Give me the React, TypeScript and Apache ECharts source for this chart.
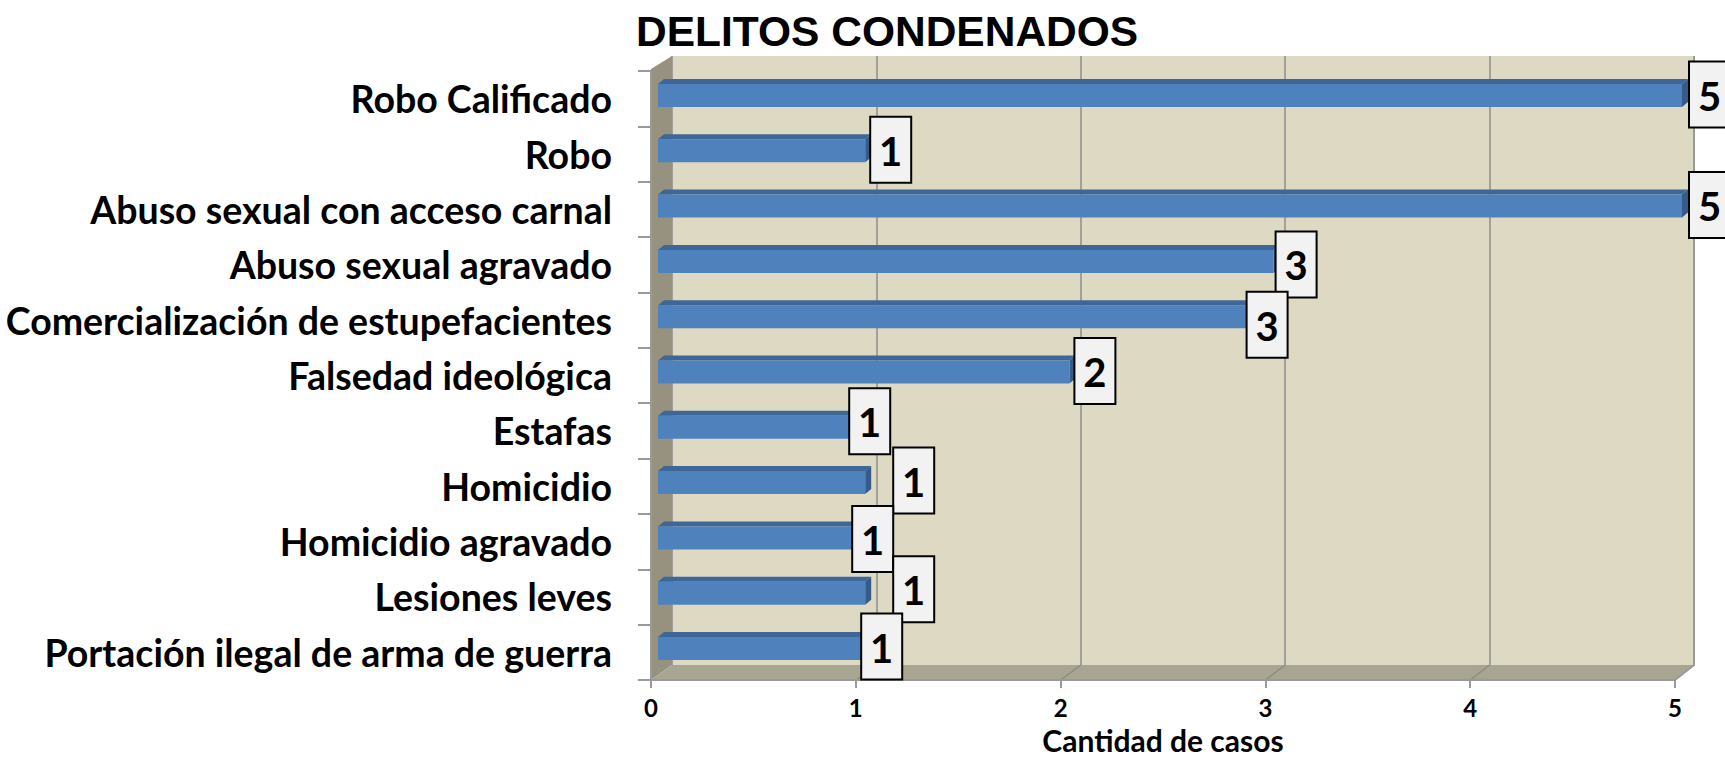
import React, { useEffect, useRef } from "react";
import * as echarts from "echarts";

const categories = [
  "Robo Calificado",
  "Robo",
  "Abuso sexual con acceso carnal",
  "Abuso sexual agravado",
  "Comercialización de estupefacientes",
  "Falsedad ideológica",
  "Estafas",
  "Homicidio",
  "Homicidio agravado",
  "Lesiones leves",
  "Portación ilegal de arma de guerra",
];
const casos = [5, 1, 5, 3, 3, 2, 1, 1, 1, 1, 1];
const titleText = "DELITOS CONDENADOS";
const axisName = "Cantidad de casos";

// layout-only nudges of the data-label boxes (Excel 3D placement)
const labelNudgeX = [7, 5, 7, 2, -27, 5, -16, 28, -13, 28, -4];
const labelNudgeY = [0, 0, 0, 4, 9, 0, -5, -1, 2, -3, -1];

const LABEL_FONT = "Lato";
const W = 1725;
const H = 759;

// 3D frame geometry
const FX0 = 651, FX1 = 1675, FY1 = 680, FYT = 69;
const BX0 = 672, BX1 = 1694, BY0 = 56, BY1 = 665;

export default function App() {
  const ref = useRef<HTMLDivElement>(null);
  useEffect(() => {
    if (!ref.current) return;
    const chart = echarts.init(ref.current, undefined, { renderer: "svg" });
    const floorLines: any[] = [];
    for (let v = 1; v <= 4; v++) {
      floorLines.push({
        type: "line",
        z: 1,
        shape: {
          x1: BX0 + ((BX1 - BX0) * v) / 5,
          y1: BY1,
          x2: FX0 + ((FX1 - FX0) * v) / 5,
          y2: FY1,
        },
        style: { stroke: "#8c8c84", lineWidth: 1.5 },
      });
    }
    const option: any = {
      animation: false,
      backgroundColor: "#ffffff",
      title: {
        text: titleText,
        left: 631,
        top: 5,
        textStyle: {
          fontFamily: "Liberation Sans",
          fontWeight: "bold",
          fontSize: 42.5,
          color: "#000",
        },
      },
      grid: [
        {
          left: 661, width: 1021, top: 66.85, height: 608.3, show: false,
          containLabel: false, outerBoundsMode: "none",
        },
        {
          left: FX0, width: FX1 - FX0, top: 71, height: FY1 - 71, show: false,
          containLabel: false, outerBoundsMode: "none",
        },
        {
          left: BX0,
          width: BX1 - BX0,
          top: BY0,
          height: BY1 - BY0,
          show: true,
          backgroundColor: "#ddd9c3",
          borderWidth: 0,
          containLabel: false,
          outerBoundsMode: "none",
        },
      ],
      xAxis: [
        { type: "value", gridIndex: 0, min: 0, max: 5, interval: 1, show: false },
        {
          type: "value",
          gridIndex: 1,
          min: 0,
          max: 5,
          interval: 1,
          z: 3,
          axisLine: { show: true, lineStyle: { color: "#9a9a9a", width: 2 } },
          axisTick: { show: true, length: 8, lineStyle: { color: "#9a9a9a", width: 2 } },
          splitLine: { show: false },
          axisLabel: {
            margin: 15,
            fontFamily: LABEL_FONT,
            fontWeight: "bold",
            fontSize: 24,
            lineHeight: 24,
            color: "#000",
          },
          name: axisName,
          nameLocation: "middle",
          nameGap: 45,
          nameMoveOverlap: false,
          nameTextStyle: {
            fontFamily: LABEL_FONT,
            fontWeight: "bold",
            fontSize: 30,
            lineHeight: 30,
            color: "#000",
          },
        },
        {
          type: "value",
          gridIndex: 2,
          min: 0,
          max: 5,
          interval: 1,
          axisLine: { show: false },
          axisTick: { show: false },
          axisLabel: { show: false },
          splitLine: { show: true, lineStyle: { color: "#8c8c8c", width: 1.5 } },
        },
      ],
      yAxis: [
        { type: "category", gridIndex: 0, data: categories, inverse: true, show: false },
        {
          type: "category",
          gridIndex: 1,
          data: categories,
          inverse: true,
          z: 3,
          axisLine: { show: true, lineStyle: { color: "#9a9a9a", width: 2 } },
          axisTick: { show: true, length: 13, lineStyle: { color: "#9a9a9a", width: 2 } },
          axisLabel: {
            margin: 39,
            fontFamily: LABEL_FONT,
            fontWeight: "bold",
            fontSize: 37.5,
            color: "#000",
          },
        },
        {
          type: "category",
          gridIndex: 2,
          data: categories,
          inverse: true,
          show: false,
        },
      ],
      graphic: [
        {
          type: "polygon",
          z: 1,
          shape: { points: [[FX0, FYT], [BX0, BY0], [BX0, BY1], [FX0, FY1]] },
          style: { fill: "#96927f" },
        },
        {
          type: "polygon",
          z: 1,
          shape: { points: [[FX0, FY1], [BX0, BY1], [BX1, BY1], [FX1, FY1]] },
          style: { fill: "#a8a592" },
        },
        ...floorLines,
        {
          type: "polyline",
          z: 1,
          shape: { points: [[BX1, BY0], [BX1, BY1], [FX1, FY1]] },
          style: { stroke: "#9a9a9a", lineWidth: 2, fill: null },
        },
      ],
      series: [
        {
          type: "custom",
          xAxisIndex: 0,
          yAxisIndex: 0,
          z: 5,
          data: casos.map((v, i) => [v, i]),
          encode: { x: 0, y: 1 },
          renderItem: (params: any, api: any) => {
            const v = api.value(0);
            const c = api.value(1);
            const i = params.dataIndex;
            const start = api.coord([0, c]);
            const end = api.coord([v, c]);
            const h = 23;
            const dx = 6;
            const dy = 5;
            const x0 = start[0] - 3;
            const x1 = end[0];
            const yTop = start[1] - h / 2 + 1;
            const yBot = yTop + h;
            const bw = 41;
            const bh = 66;
            const bx = x1 + labelNudgeX[i];
            const by = start[1] - bh / 2 + labelNudgeY[i];
            return {
              type: "group",
              children: [
                {
                  type: "polygon",
                  shape: {
                    points: [
                      [x0, yTop],
                      [x0 + dx, yTop - dy],
                      [x1 + dx, yTop - dy],
                      [x1, yTop],
                    ],
                  },
                  style: { fill: "#3e6696" },
                },
                {
                  type: "polygon",
                  shape: {
                    points: [
                      [x1, yTop],
                      [x1 + dx, yTop - dy],
                      [x1 + dx, yBot - dy],
                      [x1, yBot],
                    ],
                  },
                  style: { fill: "#365b88" },
                },
                {
                  type: "rect",
                  shape: { x: x0, y: yTop, width: x1 - x0, height: h },
                  style: { fill: "#4f81bd" },
                },
                {
                  type: "rect",
                  shape: { x: bx, y: by, width: bw, height: bh },
                  style: { fill: "#f2f2f2", stroke: "#000", lineWidth: 2 },
                },
                {
                  type: "text",
                  style: {
                    text: String(v),
                    x: bx + bw / 2,
                    y: by + bh / 2 + 1,
                    align: "center",
                    verticalAlign: "middle",
                    fontFamily: LABEL_FONT,
                    fontWeight: "bold",
                    fontSize: 40,
                    fill: "#000",
                  },
                },
              ],
            };
          },
        },
      ],
    };
    chart.setOption(option);
    return () => chart.dispose();
  }, []);
  return (
    <div
      ref={ref}
      style={{ position: "fixed", left: 0, top: 0, width: W, height: H }}
    />
  );
}
